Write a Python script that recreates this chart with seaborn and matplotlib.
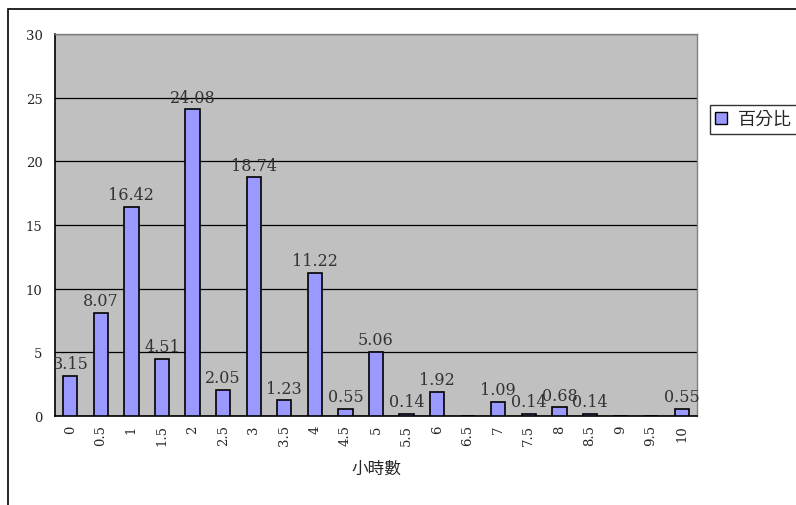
import numpy as np
import pandas as pd
import matplotlib
matplotlib.use("Agg")
import matplotlib.pyplot as plt
from matplotlib.patches import Patch, Rectangle
import seaborn as sns

# hours vs percentage
hours = ["0", "0.5", "1", "1.5", "2", "2.5", "3", "3.5", "4", "4.5", "5",
         "5.5", "6", "6.5", "7", "7.5", "8", "8.5", "9", "9.5", "10"]
percent = [3.15, 8.07, 16.42, 4.51, 24.08, 2.05, 18.74, 1.23, 11.22, 0.55, 5.06,
           0.14, 1.92, 0, 1.09, 0.14, 0.68, 0.14, 0, 0, 0.55]

df = pd.DataFrame({"hours": hours, "percent": percent})

sns.set_style("white")
plt.rcParams["font.family"] = ["DejaVu Serif", "Noto Sans CJK TC", "DejaVu Sans"]

fig = plt.figure(figsize=(7.96, 5.06), dpi=100)
ax = fig.add_axes([0.0691, 0.1759, 0.8065, 0.7549])
ax.set_facecolor("#C0C0C0")

sns.barplot(data=df, x="hours", y="percent", color="#9999FF", saturation=1,
            edgecolor="black", linewidth=1.2, width=0.47, ax=ax, zorder=3)

ax.set_ylim(0, 30)
ax.set_xlim(-0.5, len(hours) - 0.5)
ax.set_yticks(range(0, 31, 5))
ax.yaxis.grid(True, color="black", linewidth=0.9, zorder=1)
ax.set_axisbelow(True)

# data labels
for i, v in enumerate(percent):
    if v > 0:
        ax.text(i, v + 0.3, f"{v:.2f}", ha="center", va="bottom", fontsize=11.5,
                color="#333333", zorder=4)

for s in ["top", "right"]:
    ax.spines[s].set_color("#808080")
    ax.spines[s].set_linewidth(1)
for s in ["left", "bottom"]:
    ax.spines[s].set_color("black")
    ax.spines[s].set_linewidth(1.2)

ax.set_xticks(range(len(hours)))
ax.set_xticklabels(hours, rotation=90, fontsize=9.5)
ax.tick_params(axis="x", which="major", length=0, pad=6)
ax.set_xticks(np.arange(-0.5, len(hours), 1), minor=True)
ax.tick_params(axis="x", which="minor", direction="in", length=4, width=1, color="black")
ax.tick_params(axis="y", which="major", direction="out", length=3, width=1, color="black",
               labelsize=9.5, pad=6)
ax.set_xlabel("小時數", fontsize=12, labelpad=10)
ax.set_ylabel("")

# legend, cut off at the right edge like the reference
handle = Patch(facecolor="#9999FF", edgecolor="black", linewidth=1)
fig.legend([handle], ["百分比"], loc="upper left", bbox_to_anchor=(0.892, 0.791),
           frameon=True, fancybox=False, edgecolor="black", fontsize=13,
           handlelength=0.65, handleheight=0.65, handletextpad=0.6, borderpad=0.3,
           borderaxespad=0)

# outer chart border
fig.patches.append(Rectangle((0.010, -0.2), 1.2, 1.18, transform=fig.transFigure,
                             fill=False, edgecolor="black", linewidth=1.2))

fig.savefig("out.png", dpi=100)
